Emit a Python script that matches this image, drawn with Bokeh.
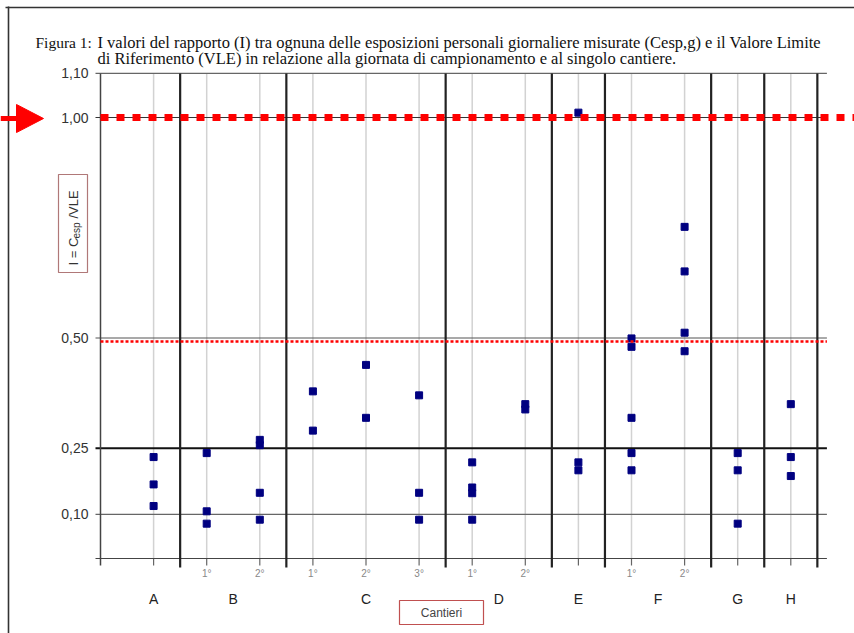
import math
from bokeh.plotting import figure
from bokeh.models import Range1d
from bokeh.core.properties import value
from bokeh.embed import file_html
from bokeh.resources import INLINE

# ---------------- data ----------------
fig_label = "Figura 1:"
title_lines = [
    "I valori del rapporto (I) tra ognuna delle esposizioni personali giornaliere misurate (Cesp,g) e il Valore Limite",
    "di Riferimento (VLE) in relazione alla giornata di campionamento e al singolo cantiere.",
]
y_ticks = [0.0, 0.10, 0.25, 0.50, 1.00, 1.10]
y_tick_labels = ["", "0,10", "0,25", "0,50", "1,00", "1,10"]
y_label_main = "I = C"
y_label_sub = "esp"
y_label_tail = "/VLE"
x_title = "Cantieri"

cantieri = ["A", "B", "C", "D", "E", "F", "G", "H"]
giornate = [[""], ["1°", "2°"], ["1°", "2°", "3°"], ["1°", "2°"], [""], ["1°", "2°"], [""], [""]]
valori_A = [[0.230, 0.168, 0.119]]
valori_B = [[0.239, 0.107, 0.079], [0.269, 0.257, 0.149, 0.088]]
valori_C = [[0.379, 0.290], [0.439, 0.319], [0.370, 0.149, 0.088]]
valori_D = [[0.218, 0.161, 0.148, 0.088], [0.350, 0.338]]
valori_E = [[1.011, 0.218, 0.200]]
valori_F = [[0.499, 0.480, 0.319, 0.239, 0.200], [0.752, 0.651, 0.512, 0.470]]
valori_G = [[0.239, 0.200, 0.079]]
valori_H = [[0.350, 0.230, 0.187]]
valori = [valori_A, valori_B, valori_C, valori_D, valori_E, valori_F, valori_G, valori_H]
vle_limite = 1.00
soglia_meta = 0.492

# ---------------- layout helpers (window pixels -> data) ----------------
X0, DX = 100.0, 53.1   # slot 0 at x=100px, one slot = 53.1px
Y0, DY = 558.0, 441.0  # value 0 at y=558px, one unit = 441px
W, H = 854, 633


def sx(px):
    return (px - X0) / DX


def sy(py):
    return (Y0 - py) / DY


SANS = value("Liberation Sans")
SERIF = value("Liberation Serif")

p = figure(width=W, height=H,
           x_range=Range1d(sx(0), sx(W)), y_range=Range1d(sy(H), sy(0)),
           output_backend="svg", toolbar_location=None,
           x_axis_location=None, y_axis_location=None, min_border=0)
p.grid.visible = False
p.outline_line_color = None
p.background_fill_color = "white"
p.border_fill_color = "white"

# slot positions derived from the data structure
slot_x, slot_lab, group_center, separators = [], [], [], []
k = 0
for g, subs in zip(cantieri, giornate):
    xs = []
    for s in subs:
        k += 1
        xs.append(k)
        slot_x.append(k)
        slot_lab.append(s)
    group_center.append(sum(xs) / len(xs))
    separators.append(k + 0.5)

pts_x, pts_y = [], []
idx = 0
for gv in valori:
    for sv in gv:
        for v in sv:
            pts_x.append(slot_x[idx])
            pts_y.append(v)
        idx += 1

top = y_ticks[-1]
x_right = separators[-1] + 0.18

# page border (left + top)
p.segment(x0=[sx(8)], y0=[sy(6)], x1=[sx(8)], y1=[sy(H)], line_color="#333333", line_width=1.6)
p.segment(x0=[sx(5)], y0=[sy(7)], x1=[sx(W)], y1=[sy(7)], line_color="#333333", line_width=1.6)

# light vertical lines at each sampling day + ticks below axis
p.segment(x0=slot_x, y0=[0] * len(slot_x), x1=slot_x, y1=[top] * len(slot_x),
          line_color="#d2d2d2", line_width=1.5)
p.segment(x0=slot_x, y0=[0] * len(slot_x), x1=slot_x, y1=[sy(565)] * len(slot_x),
          line_color="#666666", line_width=1.2)

# horizontal grid lines at the ticks
grid_colors = ["#444444", "#666666", "#111111", "#555555", "#333333", "#666666"]
grid_widths = [1.2, 1.2, 2, 1.2, 1.2, 1.2]
for t, c, w in zip(y_ticks, grid_colors, grid_widths):
    p.segment(x0=[sx(95)], y0=[t], x1=[x_right], y1=[t], line_color=c, line_width=w)

# left axis line
p.segment(x0=[0], y0=[sy(565)], x1=[0], y1=[top], line_color="#444444", line_width=1.5)

# thick separators between cantieri
p.segment(x0=separators, y0=[sy(567)] * len(separators), x1=separators, y1=[top] * len(separators),
          line_color="#222222", line_width=2.2)

# y tick labels
p.text(x=[sx(88)] * len(y_ticks), y=y_ticks, text=y_tick_labels, text_font=SANS,
       text_font_size="14px", text_align="right", text_baseline="middle", text_color="#333333")

# x labels
p.text(x=slot_x, y=[sy(573)] * len(slot_x), text=slot_lab, text_font=SANS,
       text_font_size="10px", text_align="center", text_baseline="middle", text_color="#888888")
p.text(x=group_center, y=[sy(598)] * len(group_center), text=cantieri, text_font=SANS,
       text_font_size="14px", text_align="center", text_baseline="middle", text_color="#222222")

# data points
p.scatter(x=pts_x, y=pts_y, marker="square", size=7, fill_color="#000080", line_color="#000080")

# limit lines
p.line(x=[0, sx(W)], y=[vle_limite, vle_limite], line_color="#ff0000", line_width=7, line_dash="8 8")
p.line(x=[0, x_right], y=[soglia_meta, soglia_meta], line_color="#ff0000", line_width=2.5, line_dash="3 2")

# red arrow pointing at the limit
p.segment(x0=[sx(0)], y0=[sy(118)], x1=[sx(18)], y1=[sy(118)], line_color="#ff0000", line_width=5)
p.patch(x=[sx(16), sx(43), sx(16)], y=[sy(104), sy(118), sy(132)], fill_color="#ff0000", line_color="#ff0000")

# y label box + rotated text
p.quad(left=[sx(58)], right=[sx(87)], top=[sy(174)], bottom=[sy(272)], fill_color=None,
       line_color="#b07878", line_width=1.2)
p.text(x=[sx(73)], y=[sy(265)], text=[y_label_main], angle=math.pi / 2, text_font=SANS,
       text_font_size="13px", text_align="left", text_baseline="middle", text_color="#333333")
p.text(x=[sx(76)], y=[sy(238)], text=[y_label_sub], angle=math.pi / 2, text_font=SANS,
       text_font_size="10px", text_align="left", text_baseline="middle", text_color="#333333")
p.text(x=[sx(73)], y=[sy(218)], text=[y_label_tail], angle=math.pi / 2, text_font=SANS,
       text_font_size="13px", text_align="left", text_baseline="middle", text_color="#333333")

# x title box
p.quad(left=[sx(399)], right=[sx(483)], top=[sy(600)], bottom=[sy(624)], fill_color=None,
       line_color="#c05050", line_width=1.2)
p.text(x=[sx(441)], y=[sy(612)], text=[x_title], text_font=SANS, text_font_size="12px",
       text_align="center", text_baseline="middle", text_color="#444444")

# caption
p.text(x=[sx(35)], y=[sy(42)], text=[fig_label], text_font=SERIF, text_font_size="15.5px",
       text_align="left", text_baseline="middle", text_color="#111111")
p.text(x=[sx(97)] * 2, y=[sy(42), sy(58)], text=title_lines, text_font=SERIF, text_font_size="16.5px",
       text_align="left", text_baseline="middle", text_color="#111111")

open("out.html", "w").write(file_html(p, INLINE))
